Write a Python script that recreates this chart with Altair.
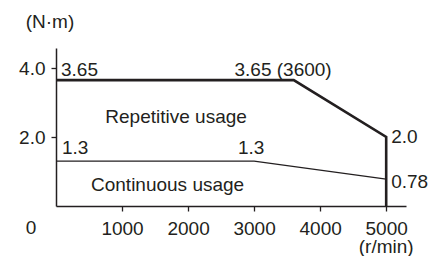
import altair as alt
import pandas as pd

# Curves
rep_speed = [0, 3600, 5000, 5000]
rep_torque = [3.65, 3.65, 2.0, 0.0]
cont_speed = [0, 3000, 5000]
cont_torque = [1.3, 1.3, 0.78]

# Axis ticks
x_ticks = [1000, 2000, 3000, 4000, 5000]
y_ticks = [2.0, 4.0]

# Annotations
ann_text = ["3.65", "1.3", "Continuous usage"]
ann_x = [76, 91, 530]
ann_y = [3.94, 1.68, 0.61]

ann_c_text = ["3.65 (3600)", "Repetitive usage", "1.3", "0", "(r/min)", "(N·m)"]
ann_c_x = [3439, 1818, 2955, -379, 5000, -91]
ann_c_y = [3.94, 2.58, 1.68, -0.64, -1.2, 5.33]

ann_r_text = ["2.0", "0.78"]
ann_r_x = [5076, 5076]
ann_r_y = [2.0, 0.70]

FONT = "Liberation Sans"
INK = "#231f20"
FS = 19

rep = pd.DataFrame({"speed": rep_speed, "torque": rep_torque, "o": range(len(rep_speed))})
cont = pd.DataFrame({"speed": cont_speed, "torque": cont_torque, "o": range(len(cont_speed))})

xs = alt.Scale(domain=[0, 5300], nice=False, zero=False)
ys = alt.Scale(domain=[0, 4.58], nice=False, zero=False)

xaxis = alt.Axis(values=x_ticks, format="d", title=None, grid=False, tickSize=5,
                 labelPadding=8, labelFontSize=FS, labelFont=FONT, labelColor=INK,
                 domainColor=INK, tickColor=INK, domainWidth=1.5, tickWidth=1.3)
yaxis = alt.Axis(values=y_ticks, format=".1f", title=None, grid=False, tickSize=5,
                 labelPadding=6, labelFontSize=FS, labelFont=FONT, labelColor=INK,
                 domainColor=INK, tickColor=INK, domainWidth=1.5, tickWidth=1.3)

rep_line = alt.Chart(rep).mark_line(color=INK, strokeWidth=2.6).encode(
    x=alt.X("speed:Q", scale=xs, axis=xaxis),
    y=alt.Y("torque:Q", scale=ys, axis=yaxis),
    order="o:Q",
)
cont_line = alt.Chart(cont).mark_line(color=INK, strokeWidth=1.3).encode(
    x=alt.X("speed:Q", scale=xs),
    y=alt.Y("torque:Q", scale=ys),
    order="o:Q",
)

def texts(t, x, y, align):
    df = pd.DataFrame({"t": t, "x": x, "y": y})
    return alt.Chart(df).mark_text(align=align, baseline="middle", font=FONT,
                                   fontSize=FS, color=INK).encode(
        x=alt.X("x:Q", scale=xs), y=alt.Y("y:Q", scale=ys), text="t:N")

chart = alt.layer(
    rep_line, cont_line,
    texts(ann_text, ann_x, ann_y, "left"),
    texts(ann_c_text, ann_c_x, ann_c_y, "center"),
    texts(ann_r_text, ann_r_x, ann_r_y, "left"),
).properties(
    width=350, height=158,
    autosize=alt.AutoSizeParams(type="none"),
    padding={"left": 48, "top": 40, "right": 29, "bottom": 50},
    background="white",
).configure_view(stroke=None)

chart.save("out.html", embed_options={"renderer": "svg", "actions": False})
